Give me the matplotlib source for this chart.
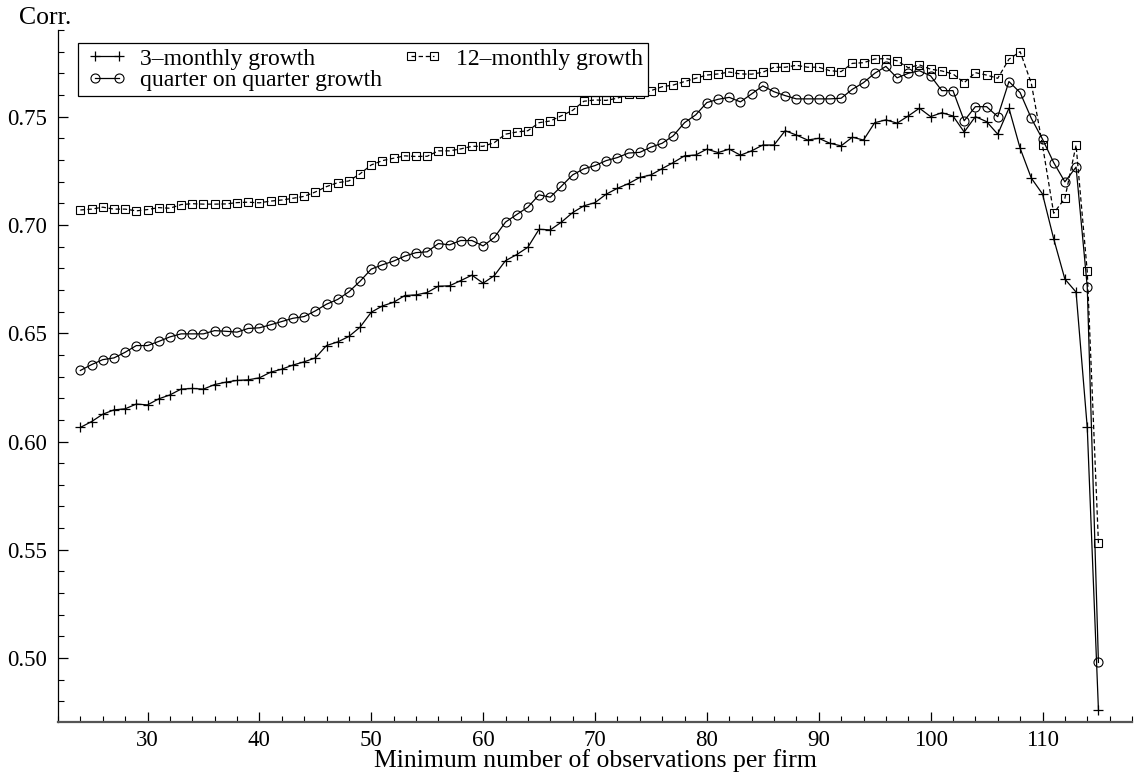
import matplotlib
matplotlib.use("Agg")
import matplotlib.pyplot as plt
from matplotlib.ticker import MultipleLocator, FormatStrFormatter
from matplotlib.legend_handler import HandlerLine2D
from matplotlib.lines import Line2D

min_obs = list(range(24, 116))

growth_3m = [
    0.6065, 0.6092, 0.6126, 0.6146, 0.6151, 0.6173, 0.6169, 0.6197, 0.6215, 0.6242,
    0.6245, 0.6242, 0.6263, 0.6274, 0.6282, 0.6285, 0.6294, 0.6320, 0.6334, 0.6353,
    0.6368, 0.6386, 0.6443, 0.6460, 0.6485, 0.6528, 0.6597, 0.6626, 0.6643, 0.6674,
    0.6677, 0.6688, 0.6717, 0.6719, 0.6743, 0.6768, 0.6731, 0.6766, 0.6835, 0.6863,
    0.6897, 0.6980, 0.6977, 0.7013, 0.7057, 0.7088, 0.7103, 0.7142, 0.7169, 0.7191,
    0.7219, 0.7231, 0.7260, 0.7288, 0.7319, 0.7323, 0.7350, 0.7334, 0.7350, 0.7322,
    0.7342, 0.7369, 0.7369, 0.7435, 0.7415, 0.7392, 0.7400, 0.7377, 0.7365, 0.7405,
    0.7392, 0.7472, 0.7485, 0.7470, 0.7503, 0.7539, 0.7500, 0.7518, 0.7503, 0.7429,
    0.7500, 0.7477, 0.7419, 0.7539, 0.7354, 0.7216, 0.7143, 0.6936, 0.6750, 0.6690,
    0.6065, 0.4762,
]

growth_qoq = [
    0.6328, 0.6355, 0.6378, 0.6386, 0.6412, 0.6443, 0.6443, 0.6462, 0.6483, 0.6497,
    0.6497, 0.6497, 0.6512, 0.6509, 0.6505, 0.6522, 0.6525, 0.6539, 0.6554, 0.6569,
    0.6577, 0.6603, 0.6634, 0.6656, 0.6691, 0.6740, 0.6796, 0.6816, 0.6833, 0.6856,
    0.6872, 0.6876, 0.6914, 0.6908, 0.6928, 0.6928, 0.6903, 0.6942, 0.7013, 0.7048,
    0.7082, 0.7139, 0.7128, 0.7179, 0.7231, 0.7259, 0.7274, 0.7297, 0.7311, 0.7332,
    0.7335, 0.7359, 0.7377, 0.7412, 0.7472, 0.7508, 0.7565, 0.7580, 0.7589, 0.7568,
    0.7605, 0.7642, 0.7615, 0.7597, 0.7582, 0.7582, 0.7582, 0.7582, 0.7585, 0.7626,
    0.7657, 0.7700, 0.7732, 0.7679, 0.7700, 0.7712, 0.7688, 0.7620, 0.7620, 0.7481,
    0.7546, 0.7546, 0.7500, 0.7662, 0.7611, 0.7492, 0.7396, 0.7288, 0.7199, 0.7267,
    0.6715, 0.4980,
]

growth_12m = [
    0.7069, 0.7073, 0.7082, 0.7073, 0.7073, 0.7065, 0.7071, 0.7080, 0.7077, 0.7094,
    0.7098, 0.7096, 0.7096, 0.7097, 0.7103, 0.7105, 0.7102, 0.7110, 0.7115, 0.7123,
    0.7132, 0.7152, 0.7177, 0.7195, 0.7203, 0.7236, 0.7277, 0.7297, 0.7308, 0.7319,
    0.7316, 0.7317, 0.7342, 0.7342, 0.7351, 0.7363, 0.7363, 0.7380, 0.7419, 0.7429,
    0.7435, 0.7472, 0.7480, 0.7504, 0.7529, 0.7571, 0.7577, 0.7575, 0.7585, 0.7605,
    0.7605, 0.7620, 0.7638, 0.7646, 0.7662, 0.7677, 0.7692, 0.7697, 0.7706, 0.7697,
    0.7696, 0.7705, 0.7728, 0.7728, 0.7737, 0.7728, 0.7728, 0.7712, 0.7708, 0.7746,
    0.7749, 0.7766, 0.7768, 0.7758, 0.7726, 0.7739, 0.7719, 0.7711, 0.7697, 0.7657,
    0.7703, 0.7692, 0.7677, 0.7765, 0.7800, 0.7654, 0.7368, 0.7054, 0.7123, 0.7368,
    0.6785, 0.5531,
]

series_labels = ["3\u2013monthly growth", "quarter on quarter growth", "12\u2013monthly growth"]
x_label = "Minimum number of observations per firm"
y_label = "Corr."

plt.rcParams['font.family'] = ['Liberation Serif', 'DejaVu Serif']

W, H = 1136, 778
fig = plt.figure(figsize=(W / 100, H / 100), dpi=100)
ax_l, ax_r, ax_t, ax_b = 58, 1132, 30, 722
ax = fig.add_axes([ax_l / W, 1 - ax_b / H, (ax_r - ax_l) / W, (ax_b - ax_t) / H])

lw = 0.9
l1, = ax.plot(min_obs, growth_3m, color='black', lw=lw, marker='+', ms=7, mew=0.9,
              label=series_labels[0])
l2, = ax.plot(min_obs, growth_qoq, color='black', lw=lw, marker='o', ms=6.5, mew=0.8,
              mfc='none', label=series_labels[1])
l3, = ax.plot(min_obs, growth_12m, color='black', lw=lw, ls=(0, (3.5, 2.2)), marker='s',
              ms=5.5, mew=0.8, mfc='none', label=series_labels[2])

ax.set_xlim(22, 118)
ax.set_ylim(0.4705, 0.79)

ax.xaxis.set_major_locator(MultipleLocator(10))
ax.xaxis.set_minor_locator(MultipleLocator(2))
ax.yaxis.set_major_locator(MultipleLocator(0.05))
ax.yaxis.set_minor_locator(MultipleLocator(0.01))
ax.yaxis.set_major_formatter(FormatStrFormatter('%.2f'))

ax.tick_params(axis='both', which='both', direction='in', top=False, right=False)
ax.tick_params(axis='both', which='major', length=7, width=0.9, labelsize=16.5)
ax.tick_params(axis='both', which='minor', length=4, width=0.8)
ax.tick_params(axis='y', which='major', pad=8)
ax.tick_params(axis='x', which='major', pad=6)

for s in ['top', 'right']:
    ax.spines[s].set_visible(False)
ax.spines['left'].set_linewidth(0.9)
ax.spines['bottom'].set_linewidth(1.6)
ax.spines['bottom'].set_color('#555555')

ax.set_xlabel(x_label, fontsize=18.5)
ax.xaxis.set_label_coords(0.5, -(767 - ax_b) / (ax_b - ax_t))
ax.xaxis.label.set_va('baseline')

fig.text(19 / W, 1 - 24 / H, y_label, fontsize=18.5, ha='left', va='baseline')

hmap = {Line2D: HandlerLine2D(marker_pad=0.5)}
leg = ax.legend(handles=[l1, l2, l3], ncol=2, loc='upper left',
                bbox_to_anchor=((78 - ax_l) / (ax_r - ax_l), 1 - (43 - ax_t) / (ax_b - ax_t)),
                borderaxespad=0, fontsize=17, frameon=True, fancybox=False,
                edgecolor='black', framealpha=1, borderpad=0.22, labelspacing=0.0,
                handlelength=2.0, handletextpad=0.42, columnspacing=0.7, numpoints=2,
                handler_map=hmap)
leg.get_frame().set_linewidth(0.9)

fig.savefig('out.png', dpi=100)
